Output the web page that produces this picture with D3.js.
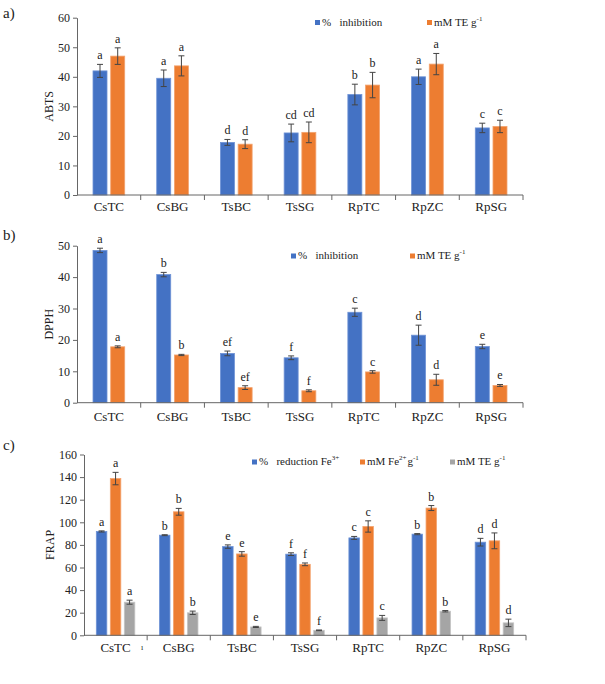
<!DOCTYPE html>
<html><head><meta charset="utf-8">
<script src="https://cdn.jsdelivr.net/npm/d3@7"></script>
<style>body{margin:0;background:#fff}svg{display:block}text{font-family:"Liberation Serif","Times New Roman",serif;fill:#222}</style>
</head><body><svg id="c" width="605" height="684"></svg>
<script>
const categories = ["CsTC","CsBG","TsBC","TsSG","RpTC","RpZC","RpSG"];

// Panel a — ABTS
const abtsTicks = [0,10,20,30,40,50,60];
const abtsInhibition = [42.0, 39.5, 17.8, 21.0, 34.0, 40.0, 22.7];
const abtsInhibitionErr = [2.2, 2.8, 1.0, 3.0, 3.5, 2.6, 1.6];
const abtsInhibitionLetters = ["a","a","d","cd","b","a","c"];
const abtsTE = [47.0, 43.7, 17.2, 21.2, 37.2, 44.3, 23.2];
const abtsTEErr = [2.8, 3.4, 1.5, 3.5, 4.3, 3.6, 2.1];
const abtsTELetters = ["a","a","d","cd","b","a","c"];

// Panel b — DPPH
const dpphTicks = [0,10,20,30,40,50];
const dpphInhibition = [48.5, 40.8, 15.7, 14.3, 28.8, 21.5, 17.9];
const dpphInhibitionErr = [0.7, 0.7, 0.75, 0.6, 1.3, 3.2, 0.7];
const dpphInhibitionLetters = ["a","b","ef","f","c","d","e"];
const dpphTE = [17.8, 15.2, 4.8, 3.8, 9.8, 7.3, 5.5];
const dpphTEErr = [0.3, 0.2, 0.6, 0.3, 0.4, 1.75, 0.3];
const dpphTELetters = ["a","b","ef","f","c","d","e"];

// Panel c — FRAP
const frapTicks = [0,20,40,60,80,100,120,140,160];
const frapReduction = [91.9, 88.6, 78.5, 71.8, 86.2, 89.5, 82.4];
const frapReductionErr = [0.5, 0.4, 1.5, 1.2, 1.3, 0.5, 3.4];
const frapReductionLetters = ["a","b","e","f","c","b","d"];
const frapFe = [138.7, 109.3, 72.0, 62.8, 96.3, 112.6, 83.6];
const frapFeErr = [5.5, 3.0, 2.0, 1.2, 5.0, 2.2, 7.0];
const frapFeLetters = ["a","b","e","f","c","b","d"];
const frapTE = [29.3, 19.9, 7.4, 4.4, 15.4, 21.3, 11.0];
const frapTEErr = [1.8, 1.5, 0.5, 0.3, 2.2, 0.6, 3.3];
const frapTELetters = ["a","b","e","f","c","b","d"];

const BLUE="#4472C4", ORANGE="#ED7D31", GRAY="#A5A5A5";
const svg = d3.select("#c");

function legendText(g, parts){
  const t = g.append("text").attr("font-size",11).attr("dominant-baseline","middle").style("white-space","pre");
  parts.forEach(p=>{
    if(p.sup){ t.append("tspan").attr("font-size",7).attr("dy",-4).text(p.sup); t.append("tspan").attr("dy",4).text("\u200a"); }
    else t.append("tspan").text(p.t);
  });
  return t;
}

function panel(o){
  const g = svg.append("g");
  const x = d3.scaleBand().domain(categories).range([o.x0,o.x1]);
  const y = d3.scaleLinear().domain([0,o.yMax]).range([o.yBase,o.yTop]);
  const n = o.series.length;
  const gw = n*o.barW + (n-1)*o.gap;
  const sub = d3.scaleBand().domain(d3.range(n)).range([-gw/2,gw/2]).paddingInner(o.gap/(o.barW+o.gap));

  // y axis
  const ya = g.append("g").attr("transform",`translate(${o.x0},0)`)
    .call(d3.axisLeft(y).tickValues(o.ticks).tickSize(4).tickSizeOuter(0).tickPadding(3).tickFormat(d3.format("d")));
  ya.select(".domain").attr("stroke","#666");
  ya.selectAll(".tick line").attr("stroke","#666");
  ya.selectAll(".tick text").attr("font-size",12).attr("font-family","Liberation Serif").attr("fill","#222");

  // bars
  o.series.forEach((s,i)=>{
    const sg = g.append("g");
    sg.selectAll("rect").data(categories).join("rect")
      .attr("x",(c)=>x(c)+x.bandwidth()/2+sub(i))
      .attr("width",sub.bandwidth())
      .attr("y",(c,j)=>y(s.values[j]))
      .attr("height",(c,j)=>y(0)-y(s.values[j]))
      .attr("fill",s.color).attr("stroke",s.edge).attr("stroke-width",0.8);
    categories.forEach((c,j)=>{
      const cx = x(c)+x.bandwidth()/2+sub(i)+sub.bandwidth()/2;
      const hi = y(s.values[j]+s.errors[j]), lo = y(s.values[j]-s.errors[j]);
      sg.append("line").attr("x1",cx).attr("x2",cx).attr("y1",hi).attr("y2",lo).attr("stroke","#444").attr("stroke-width",1);
      sg.append("line").attr("x1",cx-3).attr("x2",cx+3).attr("y1",hi).attr("y2",hi).attr("stroke","#444").attr("stroke-width",1);
      sg.append("line").attr("x1",cx-3).attr("x2",cx+3).attr("y1",lo).attr("y2",lo).attr("stroke","#444").attr("stroke-width",1);
      sg.append("text").attr("x",cx).attr("y",hi-5).attr("text-anchor","middle").attr("font-size",12).text(s.letters[j]);
    });
  });

  // x axis
  g.append("line").attr("x1",o.x0).attr("x2",o.x1).attr("y1",y(0)).attr("y2",y(0)).attr("stroke","#666");
  categories.forEach((c,j)=>{
    const bx = x(c)+x.bandwidth();
    g.append("line").attr("x1",bx).attr("x2",bx).attr("y1",y(0)).attr("y2",y(0)+5).attr("stroke","#666");
    g.append("text").attr("x",x(c)+x.bandwidth()/2).attr("y",o.catY).attr("text-anchor","middle").attr("font-size",13).text(c);
  });

  // titles
  g.append("text").attr("transform",`translate(${o.titleX},${(o.yBase+o.yTop)/2}) rotate(-90)`).attr("text-anchor","middle").attr("dominant-baseline","middle").attr("font-size",12).text(o.title);
  g.append("text").attr("x",3).attr("y",o.labelY).attr("font-size",15).text(o.label);

  // legend
  o.legend.forEach(l=>{
    g.append("rect").attr("x",l.x).attr("y",o.legendY-2.5).attr("width",5).attr("height",5).attr("fill",l.color);
    const t = legendText(g,l.parts);
    t.attr("x",l.x+7).attr("y",o.legendY);
  });
  return {x,y};
}

panel({x0:77,x1:523,yBase:195,yTop:17.7,yMax:60,ticks:abtsTicks,barW:14,gap:3.7,catY:211,
  title:"ABTS",titleX:50,label:"a)",labelY:18,legendY:22.5,
  series:[{values:abtsInhibition,errors:abtsInhibitionErr,letters:abtsInhibitionLetters,color:BLUE,edge:"#6f93d6"},
          {values:abtsTE,errors:abtsTEErr,letters:abtsTELetters,color:ORANGE,edge:"#f3a36f"}],
  legend:[{x:315,color:BLUE,parts:[{t:"%   inhibition"}]},
          {x:427,color:ORANGE,parts:[{t:"mM TE g"},{sup:"-1"}]}]});

panel({x0:77,x1:523,yBase:402.7,yTop:245.7,yMax:50,ticks:dpphTicks,barW:14,gap:3.7,catY:421,
  title:"DPPH",titleX:50,label:"b)",labelY:240,legendY:256,
  series:[{values:dpphInhibition,errors:dpphInhibitionErr,letters:dpphInhibitionLetters,color:BLUE,edge:"#6f93d6"},
          {values:dpphTE,errors:dpphTEErr,letters:dpphTELetters,color:ORANGE,edge:"#f3a36f"}],
  legend:[{x:291,color:BLUE,parts:[{t:"%   inhibition"}]},
          {x:410,color:ORANGE,parts:[{t:"mM TE g"},{sup:"-1"}]}]});

panel({x0:84,x1:526,yBase:635.3,yTop:454.5,yMax:160,ticks:frapTicks,barW:10.5,gap:3.5,catY:652,
  title:"FRAP",titleX:51,label:"c)",labelY:450,legendY:462,
  series:[{values:frapReduction,errors:frapReductionErr,letters:frapReductionLetters,color:BLUE,edge:"#6f93d6"},
          {values:frapFe,errors:frapFeErr,letters:frapFeLetters,color:ORANGE,edge:"#f3a36f"},
          {values:frapTE,errors:frapTEErr,letters:frapTELetters,color:GRAY,edge:"#c4c4c4"}],
  legend:[{x:252,color:BLUE,parts:[{t:"%   reduction Fe"},{sup:"3+"}]},
          {x:360,color:ORANGE,parts:[{t:"mM Fe"},{sup:"2+"},{t:"g"},{sup:"-1"}]},
          {x:450,color:GRAY,parts:[{t:"mM TE g"},{sup:"-1"}]}]});

svg.append("text").attr("x",141).attr("y",650).attr("font-size",8).attr("fill","#999").text("ı");
</script></body></html>
